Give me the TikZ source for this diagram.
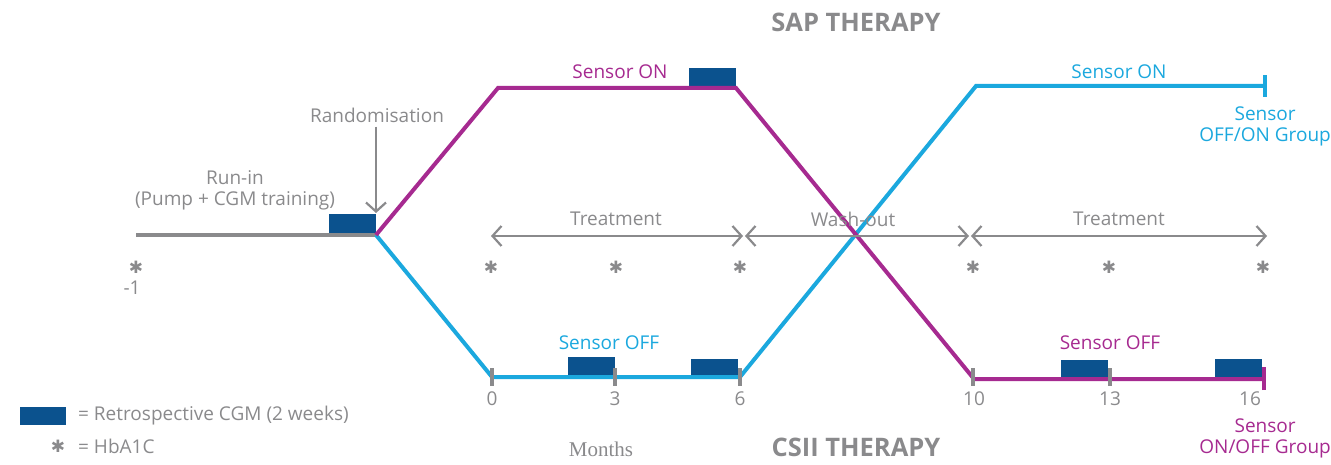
\documentclass[tikz,border=0pt]{standalone}
\usepackage{fontspec}
\setmainfont{Open Sans}
\newfontfamily\monthsfont{Liberation Serif}
\newfontfamily\symfont{DejaVu Sans}
\usetikzlibrary{arrows.meta}
\definecolor{mag}{HTML}{A62A90}
\definecolor{cy}{HTML}{1BA8DE}
\definecolor{cgm}{HTML}{0B528E}
\definecolor{gr}{HTML}{8A8A8C}
\tikzset{
  lbl/.style={font=\fontsize{19}{21}\selectfont, text=gr, inner sep=0pt},
  maglbl/.style={lbl, text=mag},
  cylbl/.style={lbl, text=cy},
  title/.style={font=\fontsize{25.5}{28}\selectfont\bfseries, text=gr, inner sep=0pt},
  magline/.style={draw=mag, line width=4pt, line join=miter},
  cyline/.style={draw=cy, line width=4pt, line join=miter},
  grline/.style={draw=gr, line width=4pt},
  cgmbox/.style={fill=cgm, draw=none},
  tickmark/.style={draw=gr, line width=4pt},
  span/.style={draw=gr, line width=2.2pt, {Straight Barb[length=9pt,width=20pt,line width=2.2pt]}-{Straight Barb[length=9pt,width=20pt,line width=2.2pt]}},
  star/.style={font=\symfont\fontsize{17}{18}\selectfont, text=gr, inner sep=0pt},
  num/.style={lbl}
}
\begin{document}
\begin{tikzpicture}[x=1pt,y=-1pt]
\useasboundingbox (0,0) rectangle (1331,465);
% path points
\coordinate (rs) at (136,235);
\coordinate (split) at (376,235);
\coordinate (m1) at (498,88);
\coordinate (m2) at (736,88);
\coordinate (m3) at (974,379);
\coordinate (mend) at (1264,379);
\coordinate (c1) at (492,377);
\coordinate (c2) at (740,377);
\coordinate (c3) at (976,86);
\coordinate (cend) at (1265,86);
% CGM boxes
\fill[cgmbox] (329,214) rectangle (376,233);
\fill[cgmbox] (689,68) rectangle (736,87);
\fill[cgmbox] (568,357) rectangle (615,376);
\fill[cgmbox] (691,359) rectangle (738,376);
\fill[cgmbox] (1061,360) rectangle (1108,378);
\fill[cgmbox] (1215,359) rectangle (1262,378);
% run-in line
\draw[grline] (rs) -- (split);
% lines
\draw[cyline] (split) -- (c1) -- (c2) -- (c3) -- (cend);
\draw[magline] (split) -- (m1) -- (m2) -- (m3) -- (mend);
% end ticks
\draw[draw=cy, line width=3.5pt] ([yshift=-11pt]cend) -- ([yshift=11pt]cend);
\draw[draw=mag, line width=3.5pt] ([yshift=-11pt]mend) -- ([yshift=12pt]mend);
% gray ticks
\foreach \x/\n in {492/t0,615/t3,740/t6,973/t10,1110/t13}{
  \draw[tickmark] (\x,368) -- (\x,386);
}
% numbers
\node[num] (n0) at (492,399) {0};
\node[num] (n3) at (615,399) {3};
\node[num] (n6) at (740,399) {6};
\node[num] (n10) at (974,399) {10};
\node[num] (n13) at (1110,399) {13};
\node[num] (n16) at (1250,399) {16};
% treatment arrows
\coordinate (a0) at (491,236);
\coordinate (a6) at (743,236);
\coordinate (a6b) at (745,236);
\coordinate (a10) at (969,236);
\coordinate (a10b) at (971,236);
\coordinate (a16) at (1267,236);
\draw[span] (a0) -- (a6);
\draw[span] (a6b) -- (a10);
\draw[span] (a10b) -- (a16);
\node[lbl] (tr1) at (616,219) {Treatment};
\node[lbl] (wo) at (853,219) {Wash-out};
\node[lbl] (tr2) at (1119,219) {Treatment};
% asterisks
\foreach \x/\n in {136/s0,491/s1,616/s2,740/s3,973/s4,1109/s5,1263/s6}{
  \node[star] (\n) at (\x,267) {✱};
}
\node[num] (nm1) at (132,288) {-1};
% randomisation
\node[lbl] (rand) at (377,115) {Randomisation};
\coordinate (randtip) at (376,213);
\draw[draw=gr, line width=2.2pt, -{Straight Barb[length=9pt,width=20pt,line width=2.2pt]}] (rand.south -| randtip) ++(0,4) -- (randtip);
% run-in
\node[lbl, align=center] (runin) at (235,190) {Run-in\\(Pump + CGM training)};
% titles
\node[title] (sap) at (856,22) {SAP THERAPY};
\node[title] (csii) at (856,447) {CSII THERAPY};
% sensor labels
\node[maglbl] (mon) at (620,72) {Sensor ON};
\node[cylbl] (con) at (1119,72) {Sensor ON};
\node[cylbl] (coff) at (609,343) {Sensor OFF};
\node[maglbl] (moff) at (1110,343) {Sensor OFF};
\node[cylbl, align=center, anchor=east] (cgrp) at (1331,126) {Sensor\\OFF/ON Group};
\node[maglbl, align=center, anchor=east] (mgrp) at (1331,438) {Sensor\\ON/OFF Group};
% legend
\fill[cgmbox] (20,407) rectangle (66,425);
\node[lbl, anchor=west] (leg1) at (78,416) {= Retrospective CGM (2 weeks)};
\node[star] (legstar) at (58,446) {✱};
\node[lbl, anchor=west] (leg2) at (78,446) {= HbA1C};
% months
\node[font=\monthsfont\fontsize{21}{24}\selectfont, text=gr, inner sep=0pt] (months) at (601,449) {Months};
\end{tikzpicture}
\end{document}
